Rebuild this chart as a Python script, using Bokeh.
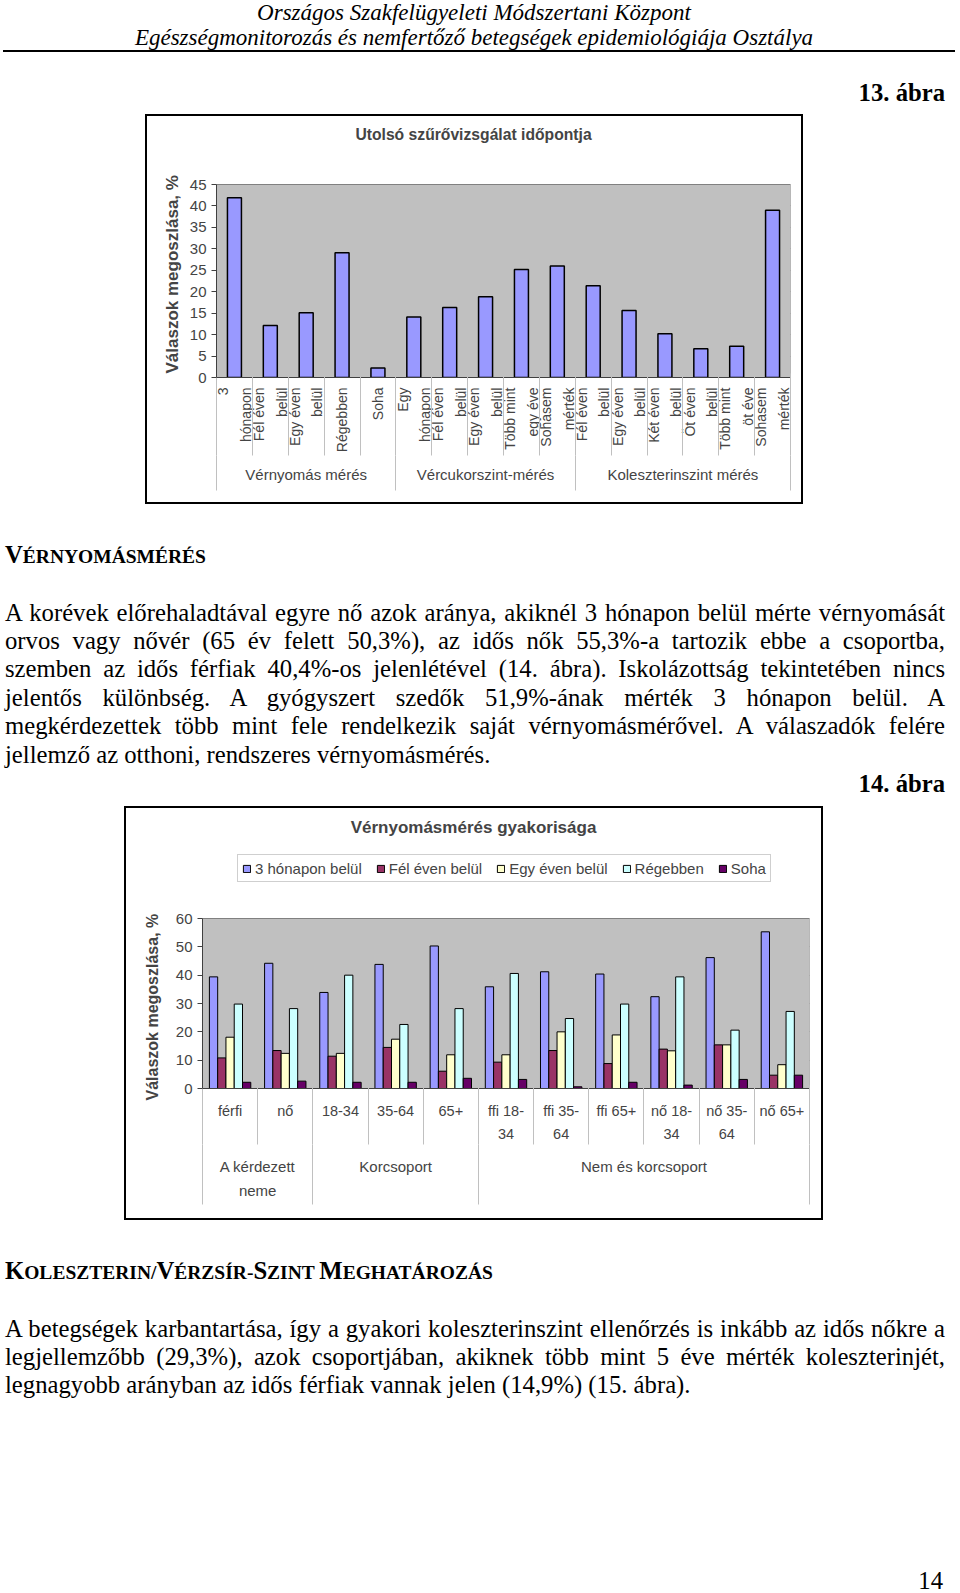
from math import pi
from bokeh.plotting import figure
from bokeh.models import (FixedTicker, LinearAxis, Label, Legend, LegendItem, Div, Title,
                          Spacer, Range1d, ColumnDataSource)
from bokeh.layouts import column, row
from bokeh.transform import dodge
from bokeh.embed import file_html
from bokeh.resources import INLINE

# ---------------- data ----------------
c1_title = "Utolsó szűrővizsgálat időpontja"
c1_labels = ["3\nhónapon", "Fél éven\nbelül", "Egy éven\nbelül", "Régebben", "Soha",
             "Egy\nhónapon", "Fél éven\nbelül", "Egy éven\nbelül", "Több mint\negy éve", "Sohasem\nmérték",
             "Fél éven\nbelül", "Egy éven\nbelül", "Két éven\nbelül", "Öt éven\nbelül", "Több mint\nöt éve",
             "Sohasem\nmérték"]
c1_groups = ["Vérnyomás mérés", "Vércukorszint-mérés", "Koleszterinszint mérés"]
c1_group_sizes = [5, 5, 6]
c1_values = [41.9, 12.1, 15.1, 29.1, 2.2,
             14.1, 16.3, 18.8, 25.2, 26.0,
             21.4, 15.6, 10.2, 6.7, 7.3, 39.0]
c1_yticks = [0, 5, 10, 15, 20, 25, 30, 35, 40, 45]

c2_title = "Vérnyomásmérés gyakorisága"
c2_labels = ["férfi", "nő", "18-34", "35-64", "65+", "ffi 18-\n34", "ffi 35-\n64", "ffi 65+",
             "nő 18-\n34", "nő 35-\n64", "nő 65+"]
c2_groups = ["A kérdezett\nneme", "Korcsoport", "Nem és korcsoport"]
c2_group_sizes = [2, 3, 6]
c2_series = ["3 hónapon belül", "Fél éven belül", "Egy éven belül", "Régebben", "Soha"]
c2_3honap = [39.4, 44.2, 33.9, 43.8, 50.3, 35.9, 41.2, 40.4, 32.4, 46.2, 55.3]
c2_felev = [10.8, 13.4, 11.4, 14.5, 6.1, 9.3, 13.4, 8.8, 13.9, 15.4, 4.7]
c2_egyev = [18.1, 12.4, 12.4, 17.4, 11.9, 11.9, 20.0, 18.9, 13.3, 15.4, 8.4]
c2_regebben = [29.8, 28.2, 40.0, 22.6, 28.2, 40.6, 24.7, 29.8, 39.4, 20.6, 27.2]
c2_soha = [2.2, 2.6, 2.2, 2.2, 3.6, 3.2, 0.6, 2.2, 1.2, 3.2, 4.7]
c2_yticks = [0, 10, 20, 30, 40, 50, 60]
y_label = "Válaszok megoszlása, %"

# ---------------- styles ----------------
SANS = "Liberation Sans"
SERIF = "Liberation Serif"
PLOT_BG = "#c0c0c0"
GRID = "#808080"
SEP = "#c0c0c0"
AXIS = "#404040"
COLORS = ["#9999ff", "#993366", "#ffffcc", "#ccffff", "#660066"]


def boundaries(sizes):
    b = [0]
    for s in sizes:
        b.append(b[-1] + 2 * s)
    return b


def make_chart(W, H, B, n, ymax, title, title_px, title_fs):
    """B: canvas margins of the grey plot area.  The Bokeh frame is extended
    upward so that title (and legend) lie inside it."""
    top_pad = 2
    px_per_unit = (H - B["t"] - B["b"]) / ymax
    ytop = ymax + (B["t"] - top_pad) / px_per_unit
    p = figure(width=W, height=H, x_range=Range1d(0, 2 * n), y_range=Range1d(0, ytop),
               output_backend="svg", toolbar_location=None, tools="",
               min_border_left=B["l"], min_border_right=B["r"],
               min_border_top=top_pad, min_border_bottom=B["b"],
               styles={"box-shadow": "0 0 0 2px #000"})
    p.background_fill_color = "white"
    p.border_fill_color = "white"
    p.outline_line_color = None
    p.xgrid.visible = False
    p.ygrid.grid_line_color = GRID
    # grey plot area
    p.quad(left=0, right=2 * n, bottom=0, top=ymax, fill_color=PLOT_BG, line_color=GRID, line_width=1)
    # title (canvas y -> data y)
    ty = ymax + (B["t"] - title_px[1]) / px_per_unit
    fw = W - B["l"] - B["r"]
    tx = (title_px[0] - B["l"]) / fw * 2 * n
    p.add_layout(Label(x=tx, y=ty, text=title, text_align="center", text_baseline="middle",
                       text_font=SANS, text_font_size=title_fs, text_font_style="bold"))
    return p


def style_y(p, ticks, fs, label_fs, label_offset, label_standoff):
    t = FixedTicker(ticks=ticks, minor_ticks=[])
    ax = p.yaxis[0]
    ax.ticker = t
    p.ygrid.ticker = t
    ax.bounds = (ticks[0], ticks[-1])
    ax.major_tick_out = 5
    ax.major_tick_in = 0
    ax.minor_tick_out = 0
    ax.minor_tick_in = 0
    ax.axis_line_color = AXIS
    ax.major_tick_line_color = AXIS
    ax.major_label_text_font = SANS
    ax.major_label_text_font_size = fs
    ax.major_label_standoff = 5
    # y axis title, anchored at the bottom of the grey plot area
    p.add_layout(Title(text=y_label, align="left", offset=label_offset, vertical_align="middle",
                       standoff=label_standoff, text_font=SANS, text_font_size=label_fs,
                       text_font_style="bold"), "left")


def style_x(p, n, labels, groups, gsizes, fs, gfs, orient, std1, lh1, ext1, std2, lh2, ext2, tail,
            align=None):
    xs = [2 * i + 1 for i in range(n)]
    gb = boundaries(gsizes)
    gc = [(gb[i] + gb[i + 1]) // 2 for i in range(len(groups))]
    # axis 1: category labels, no ticks
    a1 = p.xaxis[0]
    a1.ticker = FixedTicker(ticks=xs, minor_ticks=[])
    a1.major_label_overrides = {x: lab for x, lab in zip(xs, labels)}
    a1.major_label_orientation = orient
    a1.major_tick_out = 0
    a1.major_tick_in = 0
    a1.minor_tick_out = 0
    a1.minor_tick_in = 0
    a1.axis_line_color = AXIS
    a1.major_label_standoff = std1
    a1.major_label_text_font = SANS
    a1.major_label_text_font_size = fs
    a1.major_label_text_line_height = lh1
    if align:
        a1.major_label_text_align = align
    # axis 2: group labels; its inward minor ticks are the category separators
    a2 = LinearAxis(ticker=FixedTicker(ticks=gc, minor_ticks=list(range(0, 2 * n + 1, 2))),
                    major_label_overrides={x: lab for x, lab in zip(gc, groups)},
                    axis_line_color=None, major_tick_out=0, major_tick_in=0,
                    minor_tick_out=0, minor_tick_in=int(round(ext1 + 3)), minor_tick_line_color=SEP,
                    major_label_standoff=std2, major_label_text_font=SANS,
                    major_label_text_font_size=gfs, major_label_text_line_height=lh2)
    p.add_layout(a2, "below")
    # axis 3: only group separators reaching up through the group labels
    a3 = LinearAxis(ticker=FixedTicker(ticks=[], minor_ticks=gb),
                    axis_line_color=None, major_tick_out=0, major_tick_in=0,
                    minor_tick_out=int(tail), minor_tick_in=int(round(ext2 + 2)),
                    minor_tick_line_color=SEP,
                    major_label_standoff=0, major_label_text_font_size="1px")
    p.add_layout(a3, "below")
    return xs


# ---------------- chart 1 ----------------
W1, H1 = 654, 386
C1X = 147                       # page x of the canvas
B1 = dict(l=69, r=11, t=68, b=125)
n1 = len(c1_labels)
p1 = make_chart(W1, H1, B1, n1, 45, c1_title, (473 - C1X, 18), "15.7px")
x1 = [2 * i + 1 for i in range(n1)]
p1.vbar(x=x1, top=c1_values, width=0.78, fill_color=COLORS[0], line_color="black", line_width=1.5)
style_y(p1, c1_yticks, "15px", "17px", 4, 7)
style_x(p1, n1, c1_labels, c1_groups, c1_group_sizes, "14px", "15px", pi / 2,
        10, 1.4, 10 + 69.2, 10, 1.2, 10 + 18, 5, align="center")

# ---------------- chart 2 ----------------
W2, H2 = 695, 410
C2X = 126
B2 = dict(l=76, r=12, t=110, b=130)
n2 = len(c2_labels)
p2 = make_chart(W2, H2, B2, n2, 60, c2_title, (473 - C2X, 19), "17px")
x2 = [2 * i + 1 for i in range(n2)]
src2 = ColumnDataSource(dict(x=x2, s0=c2_3honap, s1=c2_felev, s2=c2_egyev, s3=c2_regebben, s4=c2_soha))
offsets = [-0.6, -0.3, 0.0, 0.3, 0.6]
items = []
for k, name in enumerate(c2_series):
    r = p2.vbar(x=dodge("x", offsets[k], range=p2.x_range), top="s%d" % k, width=0.3, source=src2,
                fill_color=COLORS[k], line_color="black", line_width=1)
    items.append(LegendItem(label=name, renderers=[r]))

legend = Legend(items=items, orientation="horizontal", location=(35, 206),
                label_text_font=SANS, label_text_font_size="15px",
                glyph_width=9, glyph_height=9, label_standoff=4, spacing=14,
                label_height=18, padding=4, margin=0,
                border_line_color="#a0a0a0", background_fill_color="white")
p2.add_layout(legend)
style_y(p2, c2_yticks, "15px", "16px", -12, 22)
style_x(p2, n2, c2_labels, c2_groups, c2_group_sizes, "14.5px", "15px", "horizontal",
        14, 1.45, 14 + 42.1, 13, 1.45, 13 + 43.5, 2)

# ---------------- page text ----------------
FS = 24.7        # body font size (12 pt)
LH = 28.4        # line height
BASE1 = 0.8375   # baseline offset for line-height:1 (Liberation Serif)


def top_for(baseline, fs):
    return baseline - BASE1 * fs


def heading(parts, baseline):
    html = ""
    for t, big in parts:
        html += '<span style="font-size:%spx">%s</span>' % (FS if big else 19.5, t)
    return ('<div style="position:absolute;left:5px;top:%.1fpx;font-size:%spx;line-height:1;'
            'white-space:nowrap;font-weight:bold">%s</div>' % (top_for(baseline, FS), FS, html))


def paragraph(lines, first_baseline):
    top = first_baseline - ((LH - 1.107 * FS) / 2 + 0.891 * FS)
    html = ('<div style="position:absolute;left:5px;top:%.1fpx;width:940px;font-size:%spx;'
            'line-height:%spx">' % (top, FS, LH))
    for i, ln in enumerate(lines):
        if i < len(lines) - 1:
            html += '<div style="text-align:justify;text-align-last:justify">%s</div>' % ln
        else:
            html += '<div style="text-align:left">%s</div>' % ln
    return html + "</div>"


def right_text(text, right, baseline, fs, extra=""):
    return ('<div style="position:absolute;right:%spx;top:%.1fpx;font-size:%spx;line-height:1;'
            'white-space:nowrap;%s">%s</div>' % (960 - right, top_for(baseline, fs), fs, extra, text))


def centered_italic(text, baseline, fs):
    return ('<div style="position:absolute;left:0;top:%.1fpx;width:948px;text-align:center;'
            'font-style:italic;font-size:%spx;line-height:1;white-space:nowrap">%s</div>'
            % (top_for(baseline, fs), fs, text))


def page_div(inner, h):
    html = ('<div style="position:relative;width:960px;height:%dpx;font-family:\'%s\',serif;color:#000">'
            % (h, SERIF)) + inner + "</div>"
    return Div(text=html, width=960, height=h, margin=0)


hdr1 = "Országos Szakfelügyeleti Módszertani Központ"
hdr2 = "Egészségmonitorozás és nemfertőző betegségek epidemiológiája Osztálya"
fig13 = "13. ábra"
fig14 = "14. ábra"

p1_lines = [
    "A korévek előrehaladtával egyre nő azok aránya, akiknél 3 hónapon belül mérte vérnyomását",
    "orvos vagy nővér (65 év felett 50,3%), az idős nők 55,3%-a tartozik ebbe a csoportba,",
    "szemben az idős férfiak 40,4%-os jelenlétével (14. ábra). Iskolázottság tekintetében nincs",
    "jelentős különbség. A gyógyszert szedők 51,9%-ának mérték 3 hónapon belül. A",
    "megkérdezettek több mint fele rendelkezik saját vérnyomásmérővel. A válaszadók felére",
    "jellemző az otthoni, rendszeres vérnyomásmérés.",
]
p2_lines = [
    "A betegségek karbantartása, így a gyakori koleszterinszint ellenőrzés is inkább az idős nőkre a",
    "legjellemzőbb (29,3%), azok csoportjában, akiknek több mint 5 éve mérték koleszterinjét,",
    "legnagyobb arányban az idős férfiak vannak jelen (14,9%) (15. ábra).",
]

HA = 116
divA = page_div(
    centered_italic(hdr1, 20, 23) +
    centered_italic(hdr2, 45, 23) +
    '<div style="position:absolute;left:3px;top:50px;width:952px;height:0;border-top:2px solid #000"></div>' +
    right_text(fig13, 945, 102, FS, "font-weight:bold;"),
    HA)

OB = HA + H1     # 502
HB = 306
divB = page_div(
    heading([("V", True), ("ÉRNYOMÁSMÉRÉS", False)], 564 - OB) +
    paragraph(p1_lines, 621 - OB) +
    right_text(fig14, 945, 793 - OB, FS, "font-weight:bold;"),
    HB)

OC = OB + HB + H2   # 1218
HC = 1593 - OC
divC = page_div(
    heading([("K", True), ("OLESZTERIN/", False), ("V", True), ("ÉRZSÍR-", False), ("S", True),
             ("ZINT ", False), ("M", True), ("EGHATÁROZÁS", False)], 1280 - OC) +
    paragraph(p2_lines, 1337 - OC) +
    right_text("14", 943, 1590 - OC, FS),
    HC)

layout = column(
    divA,
    row(Spacer(width=C1X, height=H1), p1, spacing=0),
    divB,
    row(Spacer(width=C2X, height=H2), p2, spacing=0),
    divC,
    spacing=0,
)

open("out.html", "w").write(file_html(layout, INLINE))
